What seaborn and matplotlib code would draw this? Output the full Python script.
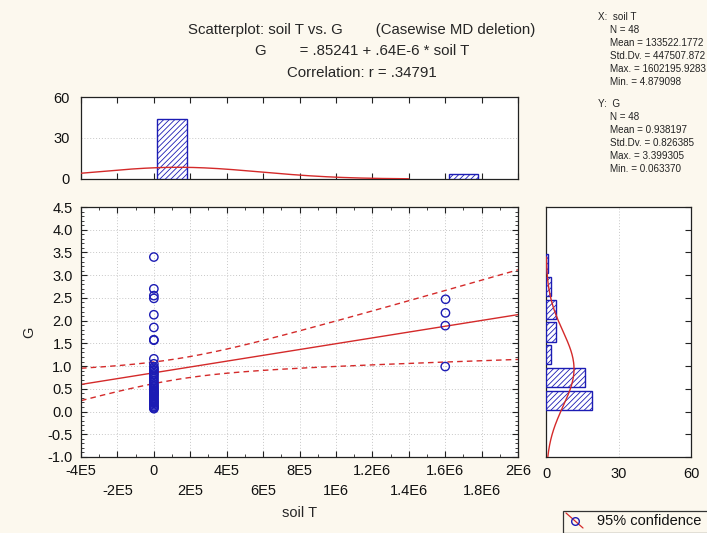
import numpy as np
import pandas as pd
import matplotlib
matplotlib.use("Agg")
import matplotlib.pyplot as plt
from matplotlib.patches import Rectangle
from matplotlib.lines import Line2D
import seaborn as sns

# ---- data -------------------------------------------------------------
# soil T / G pairs: 44 cases near zero soil T, 4 cases near 1.6E6
soil_t_low = [4.879098, 12.5, 20.1, 31.7, 45.0, 52.3, 60.8, 71.2, 80.4, 95.6,
              101.2, 110.9, 118.3, 126.0, 133.7, 140.2, 151.9, 160.5, 172.8, 180.3,
              190.6, 201.4, 210.7, 222.1, 230.5, 241.8, 250.2, 261.7, 270.9, 280.4,
              291.3, 300.8, 311.6, 320.2, 331.9, 340.5, 351.1, 360.7, 371.4, 380.9,
              391.2, 400.6, 411.3, 420.8]
g_low = [3.399305, 2.70, 2.55, 2.49, 2.13, 1.85, 1.57, 1.58, 1.16, 1.05,
         0.98, 0.95, 0.92, 0.90, 0.86, 0.83, 0.80, 0.76, 0.72, 0.68,
         0.64, 0.60, 0.57, 0.54, 0.51,
         0.06337, 0.08, 0.10, 0.12, 0.15, 0.18, 0.20, 0.22, 0.25, 0.28,
         0.30, 0.33, 0.36, 0.38, 0.40, 0.42, 0.44, 0.46, 0.48]
soil_t_high = [1602195.9283, 1601500.0, 1600800.0, 1600300.0]
g_high = [2.47, 2.17, 1.89, 0.99]

# regression and summary statistics
intercept, slope = 0.85241, 0.64e-6
r_corr = 0.34791
n_cases = 48
x_mean, x_sd = 133522.1772, 447507.872
y_mean, y_sd = 0.938197, 0.826385

# histogram of soil T (bin centres / counts)
x_bin_centers = [1.0e5, 1.7e6]
x_bin_counts = [44, 4]
x_bin_width = 2.0e5

# histogram of G (bin centres / counts)
g_bin_centers = [0.25, 0.75, 1.25, 1.75, 2.25, 2.75, 3.25]
g_bin_counts = [19, 16, 2, 4, 4, 2, 1]
g_bin_width = 0.5

x_ticks = [-4e5, -2e5, 0, 2e5, 4e5, 6e5, 8e5, 1e6, 1.2e6, 1.4e6, 1.6e6, 1.8e6, 2e6]
x_tick_labels = ["-4E5", "-2E5", "0", "2E5", "4E5", "6E5", "8E5", "1E6",
                 "1.2E6", "1.4E6", "1.6E6", "1.8E6", "2E6"]
y_ticks = [-1.0, -0.5, 0.0, 0.5, 1.0, 1.5, 2.0, 2.5, 3.0, 3.5, 4.0, 4.5]
hist_ticks = [0, 30, 60]

# ---- style ------------------------------------------------------------
sns.set_theme(style="white")
plt.rcParams["font.family"] = ["Liberation Sans", "DejaVu Sans"]
plt.rcParams["hatch.linewidth"] = 0.6

BG = "#FCF8EE"
BLUE = "#1C1CB4"
RED = "#D42A2A"
GRID = dict(color="#C8C8C8", linestyle=(0, (1, 2)), linewidth=0.7)

fig = plt.figure(figsize=(7.07, 5.33), dpi=100, facecolor=BG)

ax = fig.add_axes([0.1146, 0.1426, 0.6181, 0.4690])
ax_top = fig.add_axes([0.1146, 0.6642, 0.6181, 0.1538])
ax_right = fig.add_axes([0.7723, 0.1426, 0.2051, 0.4690])

for a in (ax, ax_top, ax_right):
    a.set_facecolor("white")
    for s in a.spines.values():
        s.set_color("#222222")
        s.set_linewidth(0.9)

# ---- main scatter -----------------------------------------------------
df = pd.DataFrame({"soil T": soil_t_low + soil_t_high, "G": g_low + g_high})

xs = np.linspace(-4e5, 2e6, 200)
fit = intercept + slope * xs
s_res = y_sd * np.sqrt(1 - r_corr ** 2) * np.sqrt((n_cases - 1) / (n_cases - 2))
sxx = (n_cases - 1) * x_sd ** 2
t_crit = 2.0129
half = t_crit * s_res * np.sqrt(1.0 / n_cases + (xs - x_mean) ** 2 / sxx)
lines = pd.DataFrame({"x": xs, "fit": fit, "lo": fit - half, "hi": fit + half})

sns.lineplot(data=lines, x="x", y="fit", ax=ax, color=RED, linewidth=1.0)
sns.lineplot(data=lines, x="x", y="lo", ax=ax, color=RED, linewidth=1.0,
             linestyle=(0, (4, 3)))
sns.lineplot(data=lines, x="x", y="hi", ax=ax, color=RED, linewidth=1.0,
             linestyle=(0, (4, 3)))
sns.scatterplot(data=df, x="soil T", y="G", ax=ax, marker="o", s=36,
                facecolor="none", edgecolor=BLUE, linewidth=1.0, zorder=5)

ax.set_xlim(-4e5, 2e6)
ax.set_ylim(-1.0, 4.5)
ax.set_xticks(x_ticks)
ax.set_xticklabels([lab if i % 2 == 0 else "\n" + lab
                    for i, lab in enumerate(x_tick_labels)], fontsize=10.5)
for t in ax.get_xticklabels():
    t.set_linespacing(1.55)
ax.set_yticks(y_ticks)
ax.set_yticklabels([f"{v:.1f}" for v in y_ticks], fontsize=10.5)
ax.set_yticks(np.arange(-1.0, 4.51, 0.1), minor=True)
ax.set_xticks(np.arange(-4e5, 2.01e6, 1e5), minor=True)
ax.tick_params(which="major", direction="in", length=4, width=0.8,
               top=True, right=True, bottom=True, left=True,
               colors="#222222", labelcolor="#111111")
ax.tick_params(axis="x", which="major", pad=5)
ax.tick_params(axis="y", which="major", pad=6)
ax.tick_params(which="minor", direction="in", length=2, width=0.6,
               top=True, right=True, bottom=True, left=True, colors="#222222")
ax.grid(True, which="major", **GRID)
ax.set_xlabel("soil T", fontsize=10.5, labelpad=6)
ax.set_ylabel("G", fontsize=10.5, labelpad=8)

# ---- top histogram (soil T) -------------------------------------------
ax_top.bar(x_bin_centers, x_bin_counts, width=x_bin_width * 0.8,
           facecolor="white", edgecolor=BLUE, hatch="//////", linewidth=1.0,
           zorder=3)
cx = np.linspace(-4e5, 1.4e6, 200)
cy = n_cases * x_bin_width * np.exp(-0.5 * ((cx - x_mean) / x_sd) ** 2) / (x_sd * np.sqrt(2 * np.pi))
sns.lineplot(x=cx, y=cy, ax=ax_top, color=RED, linewidth=1.0, zorder=4)
ax_top.set_xlim(-4e5, 2e6)
ax_top.set_ylim(0, 60)
ax_top.set_xticks(x_ticks)
ax_top.set_xticklabels([])
ax_top.set_yticks(hist_ticks)
ax_top.set_yticklabels([str(v) for v in hist_ticks], fontsize=10.5)
ax_top.tick_params(axis="x", direction="in", length=4, width=0.8, top=True,
                   bottom=True, colors="#222222")
ax_top.tick_params(axis="y", direction="in", length=0, pad=8, labelcolor="#111111")
ax_top.yaxis.grid(True, **GRID)
ax_top.set_ylabel("")

# ---- right histogram (G) ----------------------------------------------
ax_right.barh(g_bin_centers, g_bin_counts, height=g_bin_width * 0.84,
              facecolor="white", edgecolor=BLUE, hatch="//////", linewidth=1.0,
              zorder=3)
gy = np.linspace(-1.0, 3.4, 200)
gx = n_cases * g_bin_width * np.exp(-0.5 * ((gy - y_mean) / y_sd) ** 2) / (y_sd * np.sqrt(2 * np.pi))
ax_right.plot(gx, gy, color=RED, linewidth=1.0, zorder=4)
ax_right.set_ylim(-1.0, 4.5)
ax_right.set_xlim(0, 60)
ax_right.set_xticks(hist_ticks)
ax_right.set_xticklabels([str(v) for v in hist_ticks], fontsize=10.5)
ax_right.set_yticks(y_ticks)
ax_right.set_yticklabels([])
ax_right.tick_params(axis="y", direction="in", length=4, width=0.8, left=False,
                     right=True, colors="#222222")
ax_right.tick_params(axis="x", direction="in", length=0, pad=7, labelcolor="#111111")
ax_right.xaxis.grid(True, **GRID)

# ---- titles and statistics --------------------------------------------
fig.text(0.512, 0.944, "Scatterplot: soil T vs. G        (Casewise MD deletion)",
         ha="center", va="center", fontsize=10.8)
fig.text(0.512, 0.904, "G        = .85241 + .64E-6 * soil T",
         ha="center", va="center", fontsize=10.8)
fig.text(0.512, 0.863, "Correlation: r = .34791",
         ha="center", va="center", fontsize=10.8)

stats_x = ["X:  soil T", "N = 48", "Mean = 133522.1772", "Std.Dv. = 447507.872",
           "Max. = 1602195.9283", "Min. = 4.879098"]
stats_y = ["Y:  G", "N = 48", "Mean = 0.938197", "Std.Dv. = 0.826385",
           "Max. = 3.399305", "Min. = 0.063370"]
for block, y0 in ((stats_x, 17), (stats_y, 104)):
    for i, line in enumerate(block):
        xpix = 598 if i == 0 else 610
        fig.text(xpix / 707, 1 - (y0 + 13 * i) / 533, line, ha="left",
                 va="center", fontsize=7.1, color="#222222")

# ---- legend box --------------------------------------------------------
fig.patches.append(Rectangle((563 / 707, 0), 0.5, 1 - 510.5 / 533,
                             transform=fig.transFigure, facecolor=BG,
                             edgecolor="#333333", linewidth=0.9))
fig.lines.append(Line2D([566 / 707, 583 / 707], [1 - 513 / 533, 1 - 528 / 533],
                        transform=fig.transFigure, color=RED, linewidth=0.9))
fig.lines.append(Line2D([574.5 / 707], [1 - 520.5 / 533], transform=fig.transFigure,
                        marker="o", markersize=5.5, markerfacecolor="none",
                        markeredgecolor=BLUE, markeredgewidth=1.0, linestyle="none"))
fig.text(597 / 707, 1 - 521 / 533, "95% confidence", ha="left", va="center",
         fontsize=10.5, color="#111111")

fig.savefig("out.png", dpi=100, facecolor=BG)
